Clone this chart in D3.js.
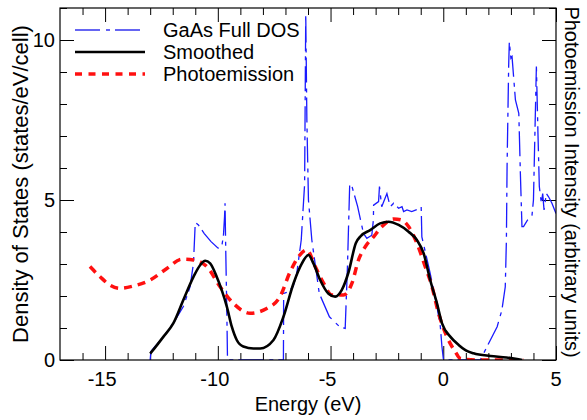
<!DOCTYPE html>
<html>
<head>
<meta charset="utf-8">
<script src="https://cdn.jsdelivr.net/npm/d3@7"></script>
<style>
    body { margin: 0; background: #fff; }
    text { font-family: "Liberation Sans", Arial, Helvetica, sans-serif; fill: #000; }
</style>
</head>
<body>
<div id="chart"></div>
<script>
const width = 587
const height = 420
const margins = { top: 8, right: 31, bottom: 60, left: 60 }

// GaAs full DOS (blue, dash-dot)
const dosEnergy = [-13.0, -12.97, -12.93, -12.41, -11.97, -11.53, -11.23, -11.08, -11.0, -10.86, -10.6, -10.3, -10.0, -9.9, -9.83, -9.75, -9.7, -9.68, -9.65, -9.6, -9.57,
    -7.09, -7.08, -6.88, -6.66, -6.5, -6.3, -6.15, -6.1, -6.05, -5.98, -5.83, -5.5, -5.05, -4.6, -4.35, -4.25, -4.15, -4.08, -3.8, -3.54, -3.39, -3.17, -3.1, -3.09,
    -2.87, -2.83, -2.73, -2.5, -2.35, -2.2, -1.98, -1.83, -1.76, -1.61, -1.4, -1.02, -0.98, -0.95, -0.58, -0.28, -0.13, -0.06, 0.01,
    1.64, 2.09, 2.39, 2.6, 2.75, 2.8, 2.83, 2.9, 2.93, 3.0, 3.05, 3.2, 3.35, 3.42, 3.49, 3.56, 3.74, 3.93, 4.0, 4.13, 4.2, 4.26, 4.35, 4.41, 4.47, 4.57, 4.67, 4.82, 5.0]
const dosValues = [0, 0.26, 0.3, 0.73, 1.15, 1.67, 2.29, 3.02, 4.3, 4.22, 3.95, 3.7, 3.5, 3.49, 3.52, 3.9, 4.5, 4.9, 3.5, 1.5, 0,
    0, 2.08, 2.13, 2.29, 2.7, 3.75, 5.5, 10.8, 7.5, 5.0, 3.75, 2.08, 1.35, 1.04, 0.99, 2.92, 5.5, 5.5, 4.8, 3.96, 3.8, 3.9, 4.375, 4.84,
    4.95, 5.42, 4.79, 5.2, 4.79, 4.9, 4.74, 4.79, 4.64, 4.69, 4.64, 4.74, 4.79, 3.85, 2.71, 1.67, 1.04, 0.42, 0,
    0, 0.625, 1.04, 1.56, 2.29, 3.75, 6.04, 9.17, 9.95, 9.43, 9.48, 8.125, 7.71, 5.83, 4.17, 4.17, 4.375, 4.48, 5.0, 9.17, 7.08, 5.42, 4.9, 5.2, 4.69, 5.2, 5.1, 4.9, 4.58]

// Smoothed DOS (black)
const smoothEnergy = [-13.0, -12.93, -12.41, -11.97, -11.53, -11.08, -10.78, -10.56, -10.34, -10.05, -9.83, -9.6, -9.38, -9.16, -8.87, -8.42, -8.12, -7.53, -7.09,
    -6.64, -6.27, -5.98, -5.76, -5.46, -5.1, -4.79, -4.5, -4.2, -3.88, -3.65, -3.24, -2.8, -2.43, -1.98, -1.54, -1.17, -0.87, -0.58, -0.28, -0.06,
    0.31, 0.68, 1.0, 1.34, 2.09, 2.8, 3.34, 3.5]
const smoothValues = [0.2, 0.26, 0.73, 1.15, 1.875, 2.6, 2.97, 3.1, 3.02, 2.6, 2.19, 1.67, 1.04, 0.625, 0.42, 0.36, 0.36, 0.625, 1.35,
    2.4, 3.02, 3.28, 3.02, 2.5, 2.08, 1.98, 2.19, 2.75, 3.65, 3.88, 4.06, 4.27, 4.32, 4.22, 4.01, 3.75, 3.33, 2.5, 1.77, 1.15,
    0.73, 0.47, 0.3, 0.21, 0.125, 0.08, 0.02, 0]

// Photoemission (red, dashed)
const photoEnergy = [-15.67, -15.22, -14.78, -14.34, -13.75, -13.0, -12.26, -11.6, -11.08, -10.49, -9.9, -9.31, -8.57, -7.83, -7.24, -6.79, -6.4, -6.05,
    -5.68, -5.31, -4.94, -4.43, -4.05, -3.76, -3.46, -3.09, -2.72, -2.2, -1.84, -1.54, -1.17, -0.8, -0.5, -0.21, 0.16, 0.53, 0.75, 1.5, 2.5, 3.55]
const photoValues = [2.92, 2.6, 2.34, 2.24, 2.31, 2.5, 2.86, 3.15, 3.125, 2.92, 2.29, 1.77, 1.46, 1.61, 1.98, 2.76, 3.25, 3.44,
    2.92, 2.4, 2.03, 2.03, 2.4, 3.125, 3.54, 3.85, 4.17, 4.41, 4.375, 4.17, 3.65, 2.92, 2.29, 1.46, 0.73, 0.26, 0.05, 0, 0, 0]

const xTicks = [-15, -10, -5, 0, 5]
const yTicks = [0, 5, 10]
const legendLabels = ["GaAs Full DOS", "Smoothed", "Photoemission"]

const svg = d3.select("#chart")
    .append("svg")
    .attr("width", width)
    .attr("height", height)

const x = d3.scaleLinear().domain([-17, 5]).range([margins.left, width - margins.right])
const y = d3.scaleLinear().domain([0, 11]).range([height - margins.bottom, margins.top])

const plotW = width - margins.left - margins.right
const plotH = height - margins.top - margins.bottom

svg.append("defs").append("clipPath").attr("id", "plot-clip")
    .append("rect")
    .attr("x", margins.left).attr("y", margins.top)
    .attr("width", plotW).attr("height", plotH)

// ticks: major every 5 with labels, minor every 1, all pointing inward
function tickLen(v) { return v % 5 === 0 ? 14 : 7 }
const minorX = d3.range(-16, 6, 1)
const minorY = d3.range(0, 12, 1)

svg.append("g")
    .attr("transform", `translate(0,${height - margins.bottom})`)
    .call(d3.axisBottom(x).tickValues(minorX).tickSizeInner(0).tickSizeOuter(0).tickFormat(""))
    .call(g => g.select(".domain").remove())
    .call(g => g.selectAll(".tick line").attr("y2", d => -tickLen(d)).attr("stroke", "#000"))
svg.append("g")
    .attr("transform", `translate(0,${margins.top})`)
    .call(d3.axisTop(x).tickValues(minorX).tickSizeOuter(0).tickFormat(""))
    .call(g => g.select(".domain").remove())
    .call(g => g.selectAll(".tick line").attr("y2", d => tickLen(d)).attr("stroke", "#000"))
svg.append("g")
    .attr("transform", `translate(${margins.left},0)`)
    .call(d3.axisLeft(y).tickValues(minorY).tickSizeOuter(0).tickFormat(""))
    .call(g => g.select(".domain").remove())
    .call(g => g.selectAll(".tick line").attr("x2", d => tickLen(d)).attr("stroke", "#000"))
svg.append("g")
    .attr("transform", `translate(${width - margins.right},0)`)
    .call(d3.axisRight(y).tickValues(minorY).tickSizeOuter(0).tickFormat(""))
    .call(g => g.select(".domain").remove())
    .call(g => g.selectAll(".tick line").attr("x2", d => -tickLen(d)).attr("stroke", "#000"))

// tick labels
svg.selectAll(".x-label")
    .data(xTicks)
    .enter()
    .append("text")
    .attr("class", "x-label")
    .attr("x", d => x(d) - (d < 0 ? 3 : 0))
    .attr("y", height - margins.bottom + 26)
    .attr("text-anchor", "middle")
    .style("font-size", "20px")
    .text(d => d)
svg.selectAll(".y-label")
    .data(yTicks)
    .enter()
    .append("text")
    .attr("class", "y-label")
    .attr("x", margins.left - 5)
    .attr("y", d => y(d) + 7)
    .attr("text-anchor", "end")
    .style("font-size", "20px")
    .text(d => d)

// curves
const plot = svg.append("g").attr("clip-path", "url(#plot-clip)")

const dosLine = d3.line().x(d => x(d[0])).y(d => y(d[1]))
const smoothLine = d3.line().x(d => x(d[0])).y(d => y(d[1])).curve(d3.curveMonotoneX)

plot.append("path")
    .datum(dosEnergy.map((e, i) => [e, dosValues[i]]))
    .attr("d", dosLine)
    .attr("fill", "none")
    .attr("stroke", "#1a1aff")
    .attr("stroke-width", 1.3)
    .attr("stroke-dasharray", "25,6,4,5")
plot.append("path")
    .datum(photoEnergy.map((e, i) => [e, photoValues[i]]))
    .attr("d", smoothLine)
    .attr("fill", "none")
    .attr("stroke", "#ff1010")
    .attr("stroke-width", 3.5)
    .attr("stroke-dasharray", "8,6")
plot.append("path")
    .datum(smoothEnergy.map((e, i) => [e, smoothValues[i]]))
    .attr("d", smoothLine)
    .attr("fill", "none")
    .attr("stroke", "#000")
    .attr("stroke-width", 2.6)

// frame
svg.append("rect")
    .attr("x", margins.left).attr("y", margins.top)
    .attr("width", plotW).attr("height", plotH)
    .attr("fill", "none")
    .attr("stroke", "#000")
    .attr("stroke-width", 1.2)

// legend
const legendStyles = [
    { stroke: "#3333ee", width: 1.3, dash: "25,6,4,5" },
    { stroke: "#000", width: 2.6, dash: null },
    { stroke: "#ff1010", width: 3.5, dash: "7,6.5" }
]
const legend = svg.append("g")
legendLabels.forEach((label, i) => {
    const ly = 30 + i * 22
    legend.append("line")
        .attr("x1", 75).attr("x2", 145)
        .attr("y1", ly).attr("y2", ly)
        .attr("stroke", legendStyles[i].stroke)
        .attr("stroke-width", legendStyles[i].width)
        .attr("stroke-dasharray", legendStyles[i].dash)
    legend.append("text")
        .text(label)
        .attr("x", 163)
        .attr("y", ly + 7)
        .style("font-size", "20px")
})

// axis titles
svg.append("text")
    .text("Energy (eV)")
    .attr("x", x(-6))
    .attr("y", height - 9)
    .attr("text-anchor", "middle")
    .style("font-size", "20px")
svg.append("text")
    .text("Density of States (states/eV/cell)")
    .attr("transform", `translate(28,${margins.top + plotH / 2}) rotate(-90)`)
    .attr("text-anchor", "middle")
    .style("font-size", "22px")
svg.append("text")
    .text("Photoemission Intensity (arbitrary units)")
    .attr("transform", `translate(565,${margins.top + plotH / 2 - 2}) rotate(90)`)
    .attr("text-anchor", "middle")
    .style("font-size", "20px")
</script>
</body>
</html>
